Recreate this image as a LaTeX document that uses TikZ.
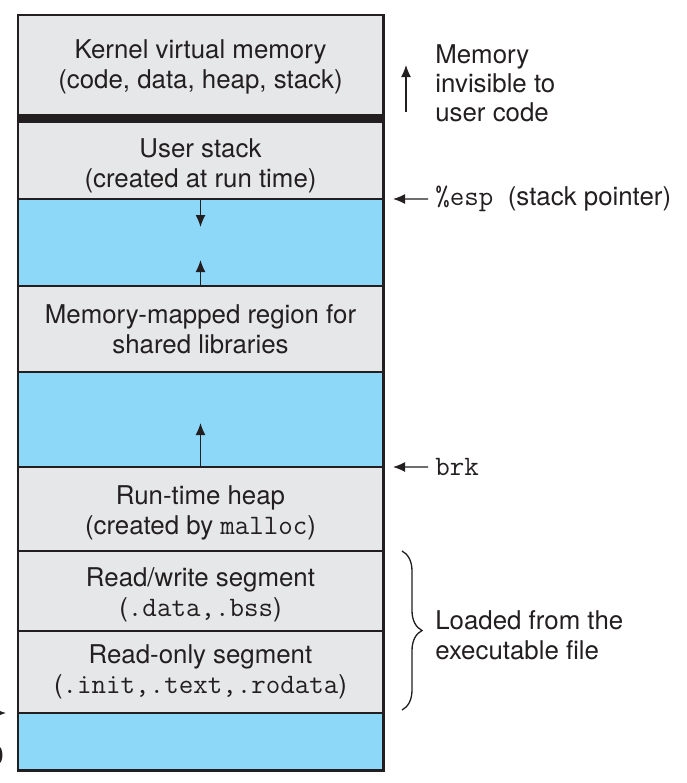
\documentclass[tikz,border=0pt]{standalone}
\usepackage{fontspec}
\setmainfont{TeX Gyre Heros}
\setmonofont{Latin Modern Mono}[Scale=1.09]
\usetikzlibrary{arrows.meta,positioning,decorations.pathreplacing}
\definecolor{seggray}{HTML}{E6E7E8}
\definecolor{segblue}{HTML}{8DD8F8}
\definecolor{ink}{HTML}{231F20}
\newcommand{\topgap}[1]{\rule{0pt}{#1}}
\tikzset{
  font=\fontsize{14.7}{17}\selectfont,
  seg/.style={
    draw=ink,
    fill=seggray,
    line width=1.1pt,
    outer sep=0pt,
    minimum width=73mm,
    align=center,
    text=ink
  },
  blueseg/.style={
    seg,
    fill=segblue
  },
  annot/.style={
    anchor=west,
    align=left,
    inner sep=0.4mm,
    text=ink,
    font=\fontsize{14.7}{16.4}\selectfont
  },
  arrow/.style={-{Latex[length=2.4mm,width=2mm]}, line width=0.75pt, draw=ink},
  bracket/.style={draw=ink, line width=0.75pt, decorate, decoration={brace, amplitude=4mm}}
}

\begin{document}
\begin{tikzpicture}[x=0.2mm, y=-0.2mm]
\useasboundingbox (0,0) rectangle (686,783);

% Address space, top to bottom
\node[seg, minimum height=20.7mm, anchor=north west] (kernel) at (18,15) {Kernel virtual memory\\(code, data, heap, stack)};
\node[seg, minimum height=16.1mm, below=0pt of kernel] (ustack) {\topgap{6.6mm}User stack\\(created at run time)};
\node[blueseg, minimum height=17.4mm, below=0pt of ustack] (free1) {};
\node[seg, minimum height=17.2mm, below=0pt of free1] (mmap) {Memory-mapped region for\\shared libraries};
\node[blueseg, minimum height=19mm, below=0pt of mmap] (free2) {};
\node[seg, minimum height=16.8mm, below=0pt of free2] (heap) {\topgap{5.4mm}Run-time heap\\(created by \texttt{malloc})};
\node[seg, minimum height=16mm, below=0pt of heap] (rw) {\topgap{5.4mm}Read/write segment\\(\texttt{.data,.bss})};
\node[seg, minimum height=16.4mm, below=0pt of rw] (ro) {Read-only segment\\(\texttt{.init,.text,.rodata})};
\node[blueseg, minimum height=11.4mm, below=0pt of ro] (free3) {};

% Frame and kernel boundary
\draw[draw=ink, line width=1.7pt] (kernel.north west) rectangle (free3.south east);
\draw[draw=ink, line width=1.8mm] (kernel.south west) -- (kernel.south east);

% Growth directions
\coordinate[below=5.6mm of free1.north] (stackend);
\coordinate[above=5.2mm of free1.south] (mmapend);
\coordinate[above=8.8mm of free2.south] (heapend);
\draw[arrow] (free1.north) -- (stackend);
\draw[arrow] (free1.south) -- (mmapend);
\draw[arrow] (free2.south) -- (heapend);

% Right column: notes
\node[annot] (invis) at (433,83) {Memory\\invisible to\\user code};
\coordinate (invtail) at (406,112);
\coordinate (invtip) at (406,65);
\draw[arrow] (invtail) -- (invtip);

\node[annot] (esp) at (433,199) {\texttt{\%esp\ }(stack pointer)};
\draw[arrow, shorten <=1mm, shorten >=2mm] (esp.west) -- (free1.north east);

\node[annot] (brk) at (433,467) {\texttt{brk}};
\draw[arrow, shorten <=1mm, shorten >=2mm] (brk.west) -- (free2.south east);

\coordinate (bracetop) at (402,551);
\coordinate (bracebot) at (402,710);
\draw[bracket] (bracetop) -- (bracebot);
\node[annot, font=\fontsize{14.7}{17}\selectfont] (loaded) at (433,635) {Loaded from the\\executable file};

% Bottom left, cut by the page edge
\node[annot, anchor=east] (zero) at (6,756) {0};
\coordinate (zerotail) at (-40,713);
\draw[arrow, shorten >=2.4mm] (zerotail) -- (free3.north west);

\end{tikzpicture}
\end{document}
